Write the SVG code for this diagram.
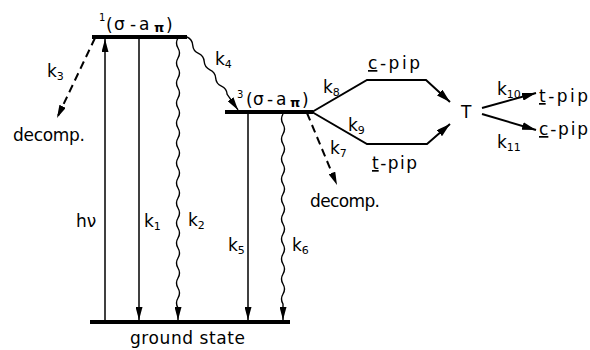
<svg xmlns="http://www.w3.org/2000/svg" width="590" height="350" viewBox="0 0 590 350">
<defs>
<marker id="ah" viewBox="0 0 13 7" refX="13" refY="3.5" markerWidth="13" markerHeight="7" markerUnits="userSpaceOnUse" orient="auto">
<path d="M0,0 L13,3.5 L0,7 z" fill="#000"/>
</marker>
<marker id="ahb" viewBox="0 0 14 8" refX="14" refY="4" markerWidth="14" markerHeight="8" markerUnits="userSpaceOnUse" orient="auto">
<path d="M0,0 L14,4 L0,8 z" fill="#000"/>
</marker>
</defs>
<style>
text{font-family:"DejaVu Sans","Liberation Sans",sans-serif;font-size:17px;fill:#000}
.sub{font-size:11px}
.sup{font-size:10px}
.level{stroke:#000;stroke-width:4;fill:none}
.thin{stroke:#000;stroke-width:1.5;fill:none}
.wave{stroke:#000;stroke-width:1.4;fill:none}
.dash{stroke:#000;stroke-width:2;fill:none;stroke-dasharray:8 5}
.branch{stroke:#000;stroke-width:2;fill:none}
.u{text-decoration:underline}
</style>
<rect width="590" height="350" fill="#fff"/>

<g id="singlet">
<line class="level" x1="92" y1="37" x2="187" y2="37"/>
<text><tspan class="sup" x="99" y="21">1</tspan><tspan x="106" y="31">(</tspan><tspan x="114" y="30">σ</tspan><tspan x="130" y="30">-</tspan><tspan x="139" y="30">a</tspan><tspan x="154" y="32" font-size="13" font-weight="bold">π</tspan><tspan x="166" y="31">)</tspan></text>
</g>

<g id="triplet">
<line class="level" x1="225" y1="112" x2="313" y2="112"/>
<text><tspan class="sup" x="237" y="98">3</tspan><tspan x="246" y="106">(</tspan><tspan x="253" y="105">σ</tspan><tspan x="267" y="105">-</tspan><tspan x="276" y="105">a</tspan><tspan x="290" y="107" font-size="13" font-weight="bold">π</tspan><tspan x="302" y="106">)</tspan></text>
</g>

<g id="ground">
<line class="level" x1="90" y1="322" x2="290" y2="322"/>
<text x="130" y="344" textLength="115" lengthAdjust="spacing">ground state</text>
</g>

<g id="decomp1"><text x="13" y="141" textLength="72" lengthAdjust="spacing">decomp.</text></g>
<g id="decomp2"><text x="310" y="207" textLength="70" lengthAdjust="spacing">decomp.</text></g>
<g id="cpip1"><text x="368" y="69" textLength="52" lengthAdjust="spacing"><tspan class="u">c</tspan>-pip</text></g>
<g id="tpip1"><text x="372" y="169" textLength="45" lengthAdjust="spacing"><tspan class="u">t</tspan>-pip</text></g>
<g id="T"><text x="461" y="118" font-size="18">T</text></g>
<g id="tpip2"><text x="539" y="102" textLength="49" lengthAdjust="spacing"><tspan class="u">t</tspan>-pip</text></g>
<g id="cpip2"><text x="539" y="135" textLength="49" lengthAdjust="spacing"><tspan class="u">c</tspan>-pip</text></g>

<g id="connectors">
<line class="thin" x1="105" y1="322" x2="105" y2="39" marker-end="url(#ah)"/>
<line class="thin" x1="139" y1="39" x2="139" y2="320" marker-end="url(#ah)"/>
<path class="wave" d="M178,38 q-3,5 0,10 t0,10 t0,10 t0,10 t0,10 t0,10 t0,10 t0,10 t0,10 t0,10 t0,10 t0,10 t0,10 t0,10 t0,10 t0,10 t0,10 t0,10 t0,10 t0,10 t0,10 t0,10 t0,10 t0,10 t0,10 t0,10 t0,10 L178,320" marker-end="url(#ah)"/>
<line class="thin" x1="248" y1="114" x2="248" y2="320" marker-end="url(#ah)"/>
<path class="wave" d="M283,114 q-3,5 0,10 t0,10 t0,10 t0,10 t0,10 t0,10 t0,10 t0,10 t0,10 t0,10 t0,10 t0,10 t0,10 t0,10 t0,10 t0,10 t0,10 t0,10 t0,10 L283,320" marker-end="url(#ah)"/>
<path class="wave" transform="translate(187,37) rotate(55)" d="M0,0 q5,-3 10,0 t10,0 t10,0 t10,0 t10,0 t10,0 t10,0 L89,0" marker-end="url(#ah)"/>
<path class="dash" d="M95,38 L57,118" marker-end="url(#ah)"/>
<path class="dash" d="M307,113 L337,185" marker-end="url(#ah)"/>
<path class="branch" d="M312,112 L367,80 L426,80 L450,102" marker-end="url(#ahb)"/>
<path class="branch" d="M312,112 L367,144 L427,144 L450,124" marker-end="url(#ahb)"/>
<line class="branch" x1="482" y1="108" x2="536" y2="93" marker-end="url(#ahb)"/>
<line class="branch" x1="482" y1="114" x2="536" y2="130" marker-end="url(#ahb)"/>
<text x="47" y="77">k<tspan class="sub" dy="3">3</tspan></text>
<text x="215" y="65">k<tspan class="sub" dy="3">4</tspan></text>
<text x="76" y="227">hν</text>
<text x="144" y="227">k<tspan class="sub" dy="3">1</tspan></text>
<text x="188" y="226">k<tspan class="sub" dy="3">2</tspan></text>
<text x="228" y="251">k<tspan class="sub" dy="3">5</tspan></text>
<text x="292" y="251">k<tspan class="sub" dy="3">6</tspan></text>
<text x="323" y="93">k<tspan class="sub" dy="3">8</tspan></text>
<text x="348" y="131">k<tspan class="sub" dy="3">9</tspan></text>
<text x="330" y="154">k<tspan class="sub" dy="3">7</tspan></text>
<text x="497" y="95">k<tspan class="sub" dy="3">10</tspan></text>
<text x="497" y="148">k<tspan class="sub" dy="3">11</tspan></text>
</g>
</svg>
